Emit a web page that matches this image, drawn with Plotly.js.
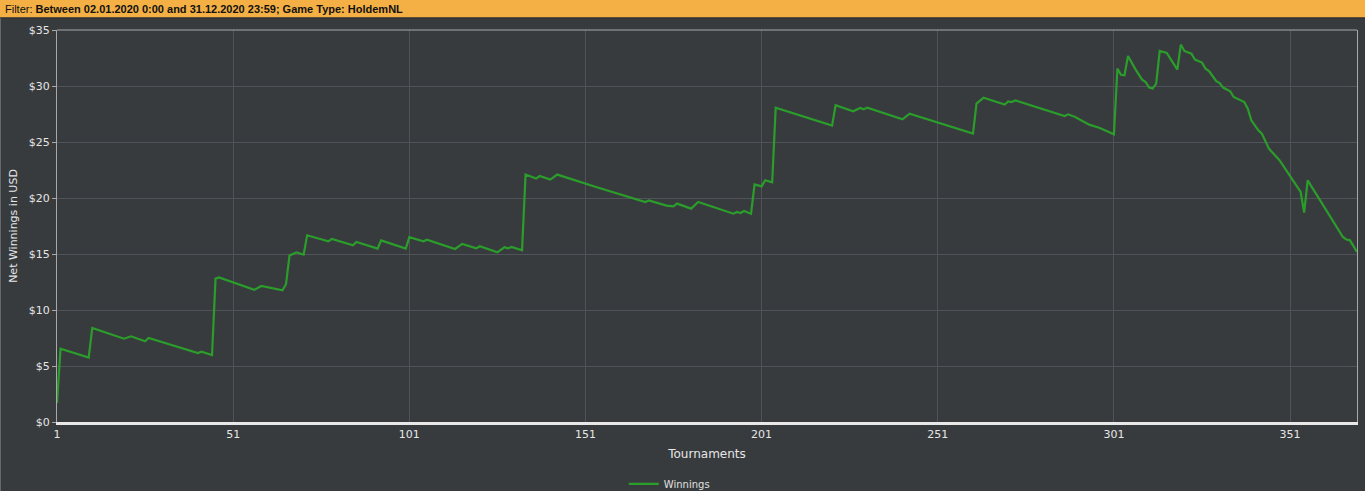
<!DOCTYPE html>
<html>
<head>
<meta charset="utf-8">
<script src="https://cdn.plot.ly/plotly-3.0.1.min.js"></script>
<style>
html,body{margin:0;padding:0;background:#383b3e;}
#chart{width:1365px;height:491px;}
</style>
</head>
<body>
<div id="chart"></div>
<script>
// Data (vertices of the cumulative winnings line)
const tournaments = [1,2,10,11,20,22,26,27,41,42,45,46,47,57,59,62,65,66,67,69,71,72,78,79,85,86,92,93,100,101,105,106,114,116,120,121,126,128,129,130,133,134,137,138,141,143,154,168,169,174,176,177,181,183,193,194,195,196,198,199,201,202,204,205,221,222,227,229,230,231,241,243,261,262,264,270,271,272,273,287,288,290,294,297,299,301,302,303,304,305,307,309,310,311,312,313,314,316,319,320,321,323,324,326,327,328,330,331,332,334,335,338,339,340,342,343,345,348,354,355,356,366,367,368,370];
const winnings = [1.7,6.55,5.75,8.39,7.44,7.65,7.2,7.5,6.16,6.28,5.98,12.8,12.9,11.8,12.15,11.97,11.76,12.3,14.86,15.15,14.94,16.67,16.13,16.34,15.78,16.07,15.48,16.22,15.48,16.5,16.13,16.28,15.45,15.9,15.5,15.69,15.15,15.6,15.5,15.63,15.33,22.09,21.73,21.96,21.64,22.09,20.98,19.64,19.79,19.32,19.26,19.5,19.05,19.64,18.6,18.75,18.66,18.84,18.6,21.22,21.04,21.58,21.4,28.07,26.46,28.28,27.74,28.03,27.92,28.07,27.03,27.53,25.75,28.43,28.96,28.34,28.63,28.57,28.72,27.32,27.47,27.23,26.55,26.25,25.96,25.69,31.55,31.0,30.96,32.68,31.55,30.57,30.36,29.86,29.77,30.21,33.13,32.95,31.46,33.7,33.13,32.89,32.36,32.09,31.55,31.34,30.45,30.27,29.86,29.53,29.02,28.57,27.98,26.94,26.04,25.75,24.41,23.37,20.54,18.7,21.58,16.52,16.29,16.22,15.18];
const xTickVals = [1,51,101,151,201,251,301,351];
const xTickText = ["1","51","101","151","201","251","301","351"];
const yTickVals = [0,5,10,15,20,25,30,35];
const yTickText = ["$0","$5","$10","$15","$20","$25","$30","$35"];
const filterLabel = "Filter:";
const filterText = "Between 02.01.2020 0:00 and 31.12.2020 23:59; Game Type: HoldemNL";
const seriesName = "Winnings";

const BG = '#383b3e';
const trace = {
  x: tournaments, y: winnings, type: 'scatter', mode: 'lines', name: seriesName,
  line: {color: '#2a9d2a', width: 2.2}
};

const layout = {
  width: 1365, height: 491,
  paper_bgcolor: BG, plot_bgcolor: BG,
  margin: {l: 57, r: 8, t: 30, b: 69, autoexpand: false},
  font: {family: 'DejaVu Sans, Verdana, sans-serif', color: '#e6e6e6', size: 11},
  showlegend: true,
  legend: {orientation: 'h', x: 0.471, xanchor: 'center', y: -0.158, yanchor: 'middle',
           font: {size: 10, color: '#e0e0e0'}, bgcolor: 'rgba(0,0,0,0)', itemwidth: 30},
  xaxis: {
    range: [1, 370], tickmode: 'array', tickvals: xTickVals, ticktext: xTickText,
    showgrid: true, gridcolor: '#50545a', gridwidth: 1, zeroline: false,
    showline: true, linecolor: '#e8e8e8', linewidth: 2.5,
    ticks: '', tickfont: {size: 11, color: '#e6e6e6'}, automargin: false,
    title: {text: 'Tournaments', font: {size: 12, color: '#e6e6e6', family: 'DejaVu Sans, sans-serif'}, standoff: 10}
  },
  yaxis: {
    range: [0, 35], tickmode: 'array', tickvals: yTickVals, ticktext: yTickText,
    showgrid: true, gridcolor: '#50545a', gridwidth: 1, zeroline: false,
    showline: true, linecolor: '#a8a8a8', linewidth: 1, mirror: true,
    ticks: 'outside', ticklen: 4, tickcolor: '#a8a8a8', automargin: false,
    tickfont: {size: 11, color: '#e6e6e6'},
    title: {text: 'Net Winnings in USD', font: {size: 11, color: '#e6e6e6', family: 'DejaVu Sans, sans-serif'}, standoff: 8}
  },
  shapes: [
    {type: 'rect', xref: 'paper', yref: 'paper', x0: -0.05, x1: 1.01, y0: 1.031, y1: 1.08,
     fillcolor: '#f4b044', line: {width: 0}, layer: 'above'},
    {type: 'line', xref: 'paper', yref: 'paper', x0: -0.05, x1: 1.01, y0: 1.031, y1: 1.031,
     line: {color: '#2a2c2e', width: 1}},
    {type: 'line', xref: 'paper', yref: 'paper', x0: 0, x1: 1, y0: 1, y1: 1,
     line: {color: '#a8a8a8', width: 1}},
    {type: 'line', xref: 'paper', yref: 'paper', x0: -0.0438, x1: -0.0438, y0: -0.2, y1: 1.03,
     line: {color: '#8a8d90', width: 1}}
  ],
  annotations: [
    {xref: 'paper', yref: 'paper', x: -0.0415, y: 1.0535, xanchor: 'left', yanchor: 'middle',
     showarrow: false, text: filterLabel + ' <b>' + filterText + '</b>',
     font: {family: 'Liberation Sans, Arial, sans-serif', size: 11, color: '#111'}}
  ]
};

Plotly.newPlot('chart', [trace], layout, {displayModeBar: false, staticPlot: true});
</script>
</body>
</html>
